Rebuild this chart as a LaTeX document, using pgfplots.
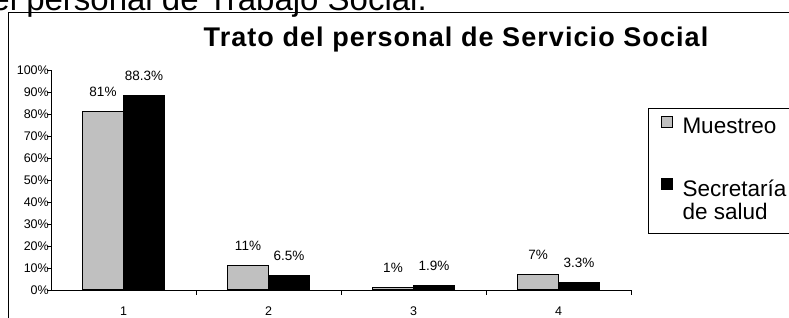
\documentclass[border=0pt]{standalone}
\usepackage{fontspec}
\setmainfont{Liberation Sans}
\usepackage{pgfplots}
\pgfplotsset{compat=1.18}
\definecolor{barGray}{RGB}{192,192,192}

\begin{document}
\begin{tikzpicture}[x=1pt,y=1pt]
% partially visible heading above the chart
\node[anchor=base east, inner sep=0pt, font=\fontsize{33}{38}\selectfont] at (427,307) {el personal de Trabajo Social.};
% chart area frame
\draw[line width=1pt] (8.5,-20) -- (8.5,305) -- (830,305);
% title
\node[anchor=base, inner sep=0pt, font=\fontsize{27}{30}\selectfont\bfseries\addfontfeatures{LetterSpace=4}] at (456,270.5) {Trato del personal de Servicio Social};

\begin{axis}[
  at={(51pt,27pt)}, anchor=south west,
  scale only axis, width=580pt, height=220pt,
  xmin=0.5, xmax=4.5, ymin=0, ymax=100,
  axis x line*=bottom, axis y line*=left,
  axis line style={-, line width=1pt, black},
  clip=false,
  ybar=0pt, bar width=41pt,
  /pgf/number format/assume math mode=true,
  ytick={0,10,...,100},
  yticklabel={\pgfmathprintnumber{\tick}\%},
  xtick={1,2,3,4},
  major x tick style={draw=none},
  minor xtick={1.5,2.5,3.5,4.5},
  tick align=outside,
  major tick length=4pt, minor tick length=4.5pt,
  tick style={black, line width=0.8pt},
  yticklabel style={font=\fontsize{12.5}{14}\selectfont, anchor=east, inner sep=0pt, xshift=2pt},
  xticklabel style={font=\fontsize{12.5}{14}\selectfont, anchor=base, inner sep=0pt, yshift=-21.5pt},
  nodes near coords={\pgfmathprintnumber{\pgfplotspointmeta}\%},
  every node near coord/.append style={anchor=center, inner sep=0pt, yshift=19.5pt, font=\fontsize{13.5}{15}\selectfont, black},
  legend style={at={(axis description cs:1.0293,0.8286)}, anchor=north west, draw=black, line width=1pt, fill=white,
    font=\fontsize{22.5}{22.3}\selectfont, inner xsep=12pt, inner ysep=8pt, row sep=43pt, column sep=10pt,
    nodes={inner sep=0pt}},
  legend cell align=left,
]
\addplot[fill=barGray, draw=black, line width=1.3pt,
  legend image code/.code={\draw[fill=barGray, draw=black, line width=1pt] (0pt,-1pt) rectangle (11pt,10pt);}]
  coordinates {(1,81) (2,11) (3,1) (4,7)};
\addplot[fill=black, draw=black, line width=1pt,
  legend image code/.code={\draw[fill=black, draw=black, line width=1pt] (0pt,-1pt) rectangle (11pt,10pt);\path (0pt,-36pt);}]
  coordinates {(1,88.3) (2,6.5) (3,1.9) (4,3.3)};
\addlegendentry{\makebox[150pt][l]{Muestreo}}
\addlegendentry{\begin{tabular}[t]{@{}l@{}}Secretaría\\de salud\end{tabular}}
\end{axis}

\pgfresetboundingbox
\path[use as bounding box] (0,0) rectangle (789pt,317pt);
\end{tikzpicture}
\end{document}
